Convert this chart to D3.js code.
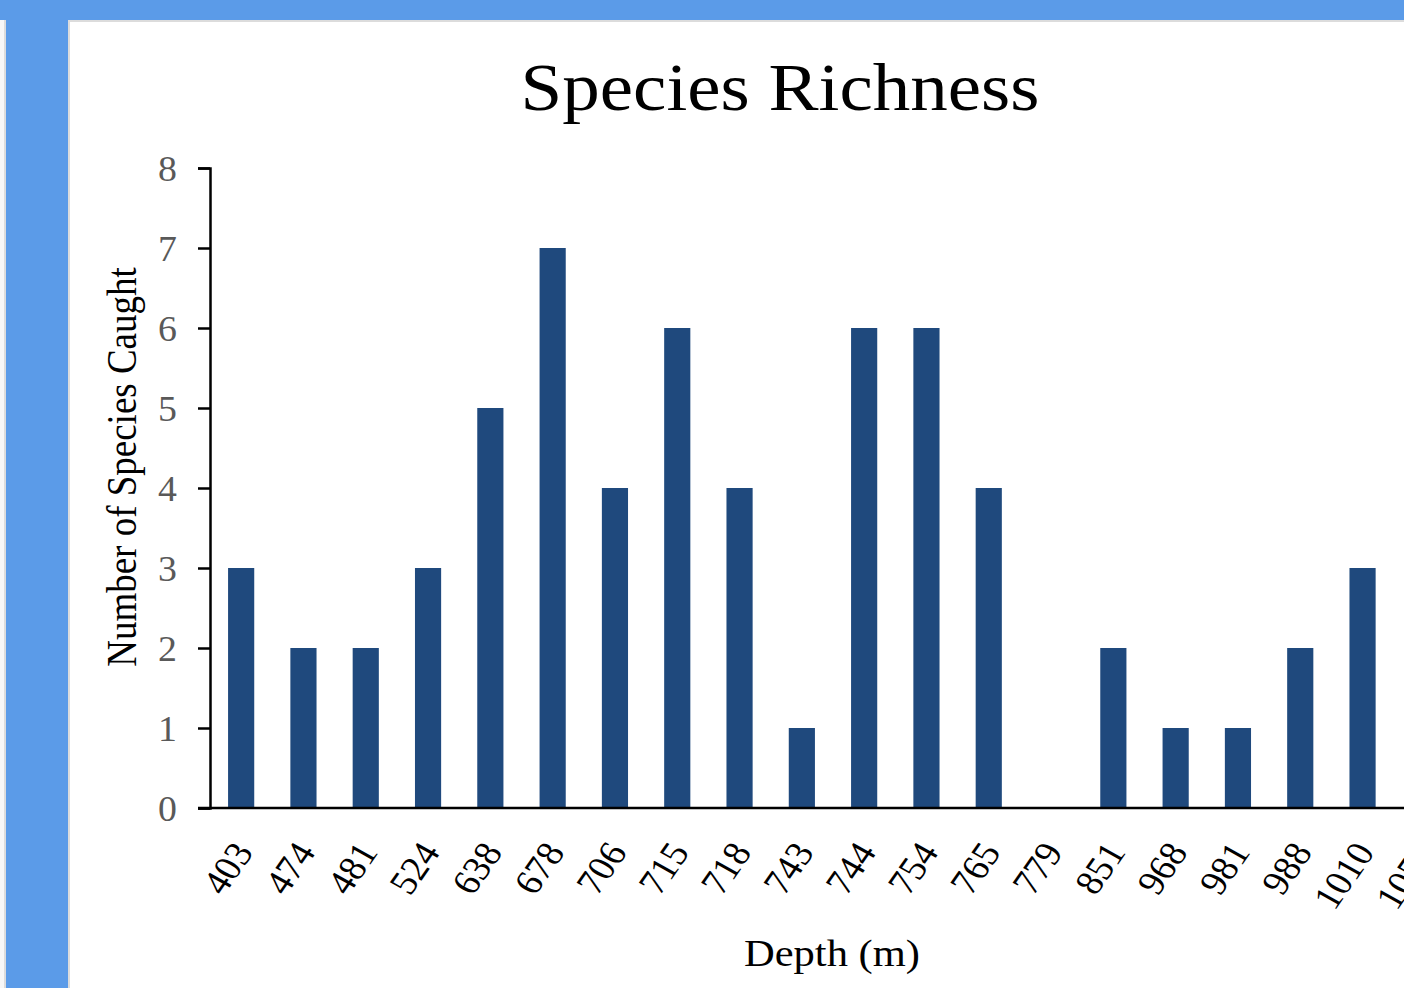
<!DOCTYPE html>
<html>
<head>
<meta charset="utf-8">
<script src="https://cdn.jsdelivr.net/npm/d3@7"></script>
<style>
  html, body { margin: 0; padding: 0; background: #ffffff; overflow: hidden; }
  svg { display: block; }
</style>
</head>
<body>
<script>
// Species richness by trawl depth
const depths = ["403", "474", "481", "524", "638", "678", "706", "715", "718", "743",
                "744", "754", "765", "779", "851", "968", "981", "988", "1010", "1050"];
const speciesCount = [3, 2, 2, 3, 5, 7, 4, 6, 4, 1, 6, 6, 4, 0, 2, 1, 1, 2, 3, 2];
const yTicks = [0, 1, 2, 3, 4, 5, 6, 7, 8];

const W = 1404, H = 988;
const SX = 1.12;               // horizontal glyph stretch
const serif = "'Liberation Serif', 'Times New Roman', serif";

const svg = d3.select("body").append("svg")
  .attr("width", W).attr("height", H);

// page frame: blue bands and white chart panel
svg.append("rect").attr("x", 0).attr("y", 0).attr("width", W).attr("height", H).attr("fill", "#5b9be8");
svg.append("rect").attr("x", 0).attr("y", 20).attr("width", 6).attr("height", H).attr("fill", "#dcdcdc");
svg.append("rect").attr("x", 0).attr("y", 20).attr("width", 4).attr("height", H).attr("fill", "#f7f7f7");
svg.append("rect").attr("x", 68).attr("y", 20).attr("width", W).attr("height", H).attr("fill", "#dcdcdc");
svg.append("rect").attr("x", 70).attr("y", 22).attr("width", W).attr("height", H).attr("fill", "#ffffff");

const x0 = 210, yBase = 808, yTop = 168, step = 62.3;

const x = d3.scaleBand()
  .domain(depths)
  .range([x0, x0 + step * depths.length])
  .paddingInner(0.58)
  .paddingOuter(0.29);

const y = d3.scaleLinear().domain([0, 8]).range([yBase, yTop]);

// bars
svg.append("g").selectAll("rect")
  .data(depths.map((d, i) => ({ depth: d, n: speciesCount[i] })))
  .join("rect")
  .attr("x", d => x(d.depth))
  .attr("y", d => y(d.n))
  .attr("width", x.bandwidth())
  .attr("height", d => y(0) - y(d.n))
  .attr("fill", "#1f497d");

// y axis
const yAxis = svg.append("g")
  .attr("transform", `translate(${x0},0)`)
  .call(d3.axisLeft(y).tickValues(yTicks).tickSize(12).tickFormat(d3.format("d")));
yAxis.select(".domain").attr("stroke", "#000").attr("stroke-width", 2.5);
yAxis.selectAll(".tick line").attr("stroke", "#000").attr("stroke-width", 2.5);
yAxis.selectAll(".tick text")
  .attr("x", null).attr("dy", null)
  .attr("fill", "#595959")
  .attr("font-family", serif)
  .attr("font-size", 36)
  .attr("text-anchor", "end")
  .attr("dominant-baseline", "central")
  .attr("transform", `translate(-33,0) scale(1.05,1)`);

// x axis
const xAxis = svg.append("g")
  .attr("transform", `translate(0,${yBase})`)
  .call(d3.axisBottom(x).tickSize(0).tickSizeOuter(0));
xAxis.select(".domain").attr("stroke", "#000").attr("stroke-width", 2.5)
  .attr("d", `M${x0 - 12},0H${W + 100}`);
xAxis.selectAll(".tick text")
  .attr("y", null).attr("dy", null)
  .attr("fill", "#000")
  .attr("font-family", serif)
  .attr("font-size", 35)
  .attr("text-anchor", "end")
  .attr("dominant-baseline", "central")
  .attr("transform", `translate(2,38) scale(${SX},1) rotate(-58)`);

// titles
svg.append("text")
  .attr("transform", `translate(780,110) scale(${SX},1)`)
  .attr("text-anchor", "middle")
  .attr("font-family", serif).attr("font-size", 67).attr("fill", "#000")
  .text("Species Richness");

svg.append("text")
  .attr("transform", `translate(136,467) scale(${SX},1) rotate(-90)`)
  .attr("text-anchor", "middle")
  .attr("font-family", serif).attr("font-size", 37).attr("fill", "#000")
  .text("Number of Species Caught");

svg.append("text")
  .attr("transform", `translate(832,966) scale(${SX},1)`)
  .attr("text-anchor", "middle")
  .attr("font-family", serif).attr("font-size", 38).attr("fill", "#000")
  .text("Depth (m)");
</script>
</body>
</html>
